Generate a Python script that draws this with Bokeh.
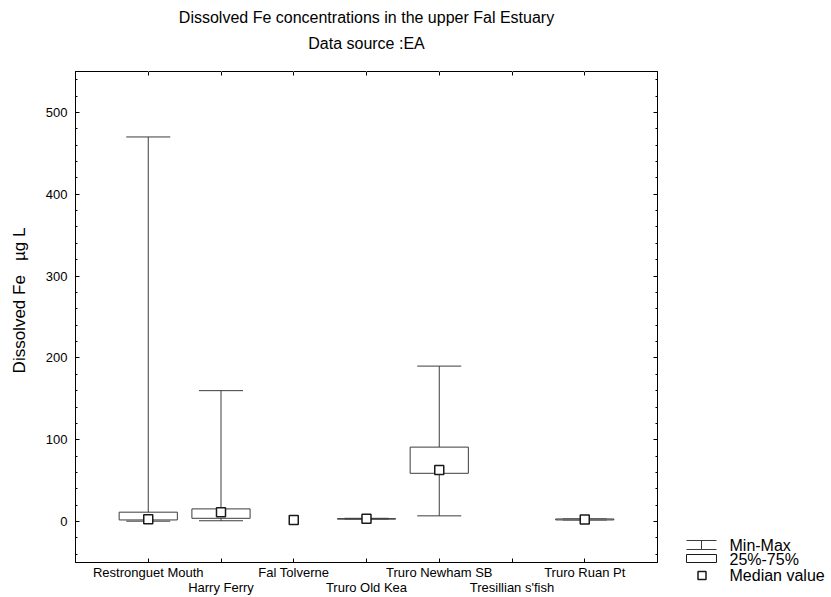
from bokeh.plotting import figure
from bokeh.models import (Range1d, LinearAxis, SingleIntervalTicker, FixedTicker,
                          ColumnDataSource, Whisker, TeeHead, Title)
from bokeh.layouts import row, column
from bokeh.embed import file_html
from bokeh.resources import INLINE
from bokeh.core.properties import value

nan = float("nan")

# ---- data ----
sites = ["Restronguet Mouth", "Harry Ferry", "Fal Tolverne", "Truro Old Kea",
         "Truro Newham SB", "Tresillian s'fish", "Truro Ruan Pt"]
fe_min = [0.5, 1.0, nan, 3.0, 7.0, nan, 2.0]
fe_q1 = [2.0, 4.0, nan, 3.0, 59.0, nan, 2.0]
fe_median = [3.0, 11.5, 2.0, 3.5, 63.0, nan, 2.5]
fe_q3 = [11.5, 15.5, nan, 3.6, 91.0, nan, 3.2]
fe_max = [470.0, 160.0, nan, 4.0, 190.0, nan, 3.2]

y_start, y_end = -50, 550
legend_labels = ["Min-Max", "25%-75%", "Median value"]

FONT = "Liberation Sans"
LINE = "#3c3c3c"

xpos = [i + 1 for i in range(len(sites))]
src = ColumnDataSource(dict(x=xpos, lo=fe_min, q1=fe_q1, med=fe_median, q3=fe_q3, hi=fe_max))

p = figure(x_range=Range1d(0, len(sites) + 1), y_range=Range1d(y_start, y_end),
           width=680, height=597, title=None, output_backend="svg", toolbar_location=None,
           min_border_left=75, min_border_right=23, min_border_top=71, min_border_bottom=34)
p.xgrid.visible = False
p.ygrid.visible = False
p.outline_line_color = "black"
p.background_fill_color = "white"
p.border_fill_color = "white"

# whiskers (min-max) under the boxes
wh = Whisker(source=src, base="x", lower="lo", upper="hi", line_color=LINE, line_width=1,
             lower_head=TeeHead(size=44, line_color=LINE, line_width=1),
             upper_head=TeeHead(size=44, line_color=LINE, line_width=1), level="underlay")
p.add_layout(wh)

p.vbar(x="x", width=0.8, bottom="q1", top="q3", source=src,
       fill_color="white", line_color=LINE, line_width=1)
p.scatter(x="x", y="med", source=src, marker="square", size=9,
          fill_color="white", line_color="#1a1a1a", line_width=1.5)

# y axes
ya = p.yaxis[0]
ya.ticker = SingleIntervalTicker(interval=100, num_minor_ticks=5)
ya.major_tick_in = 4
ya.major_tick_out = 0
ya.minor_tick_in = 2
ya.minor_tick_out = 0
ya.major_label_standoff = 8
ya.major_label_text_font = FONT
ya.major_label_text_font_size = "13px"
ya.major_label_text_color = "black"
ya.axis_line_color = "black"
ya.axis_label = "\u00a0" * 7 + "Dissolved Fe\u00a0\u00a0 \u00b5g L"
ya.axis_label_text_font = FONT
ya.axis_label_text_font_size = "17px"
ya.axis_label_text_font_style = "normal"
ya.axis_label_text_color = "black"
ya.axis_label_standoff = 14

ra = LinearAxis(ticker=SingleIntervalTicker(interval=100, num_minor_ticks=5),
                major_tick_in=4, major_tick_out=0, minor_tick_in=2, minor_tick_out=0,
                major_label_text_color=None, major_label_standoff=0, axis_line_color="black")
p.add_layout(ra, "right")

# x axes: category names, staggered on two rows
xa = p.xaxis[0]
xa.ticker = FixedTicker(ticks=xpos)
xa.major_label_overrides = {x: (s if i % 2 == 0 else "\n" + s)
                            for i, (x, s) in enumerate(zip(xpos, sites))}
xa.major_tick_in = 4
xa.major_tick_out = 0
xa.major_label_standoff = 2
xa.major_label_text_font = FONT
xa.major_label_text_font_size = "13px"
xa.major_label_text_line_height = 1.0
xa.major_label_text_color = "black"
xa.axis_line_color = "black"

ta = LinearAxis(ticker=FixedTicker(ticks=xpos), major_tick_in=4, major_tick_out=0,
                major_label_text_color=None, major_label_standoff=0, axis_line_color="black")
p.add_layout(ta, "above")
# blank band between the frame and the titles (white ticks on white)
spacer = LinearAxis(ticker=FixedTicker(ticks=xpos), major_tick_in=0, major_tick_out=17,
                    major_tick_line_color="white", axis_line_color=None,
                    major_label_text_color=None, major_label_standoff=0)
p.add_layout(spacer, "above")

p.add_layout(Title(text="Data source :EA", align="center", text_font=FONT, text_font_size="16px",
                   text_font_style="normal", text_color="black", standoff=6), "above")
p.add_layout(Title(text="Dissolved Fe concentrations in the upper Fal Estuary", align="center",
                   text_font=FONT, text_font_size="16px", text_font_style="normal",
                   text_color="black", standoff=7), "above")

# ---- legend panel ----
lg = figure(width=151, height=597, x_range=Range1d(0, 151), y_range=Range1d(597, 0),
            output_backend="svg", toolbar_location=None, min_border=0, title=None,
            x_axis_location=None, y_axis_location=None)
lg.grid.visible = False
lg.outline_line_color = None
lg.border_fill_color = "white"
lg.background_fill_color = "white"

lg.segment(x0=[6, 6, 21], y0=[540, 549, 540], x1=[36, 36, 21], y1=[540, 549, 549],
           line_color=LINE, line_width=1)
lg.quad(left=[6], right=[36], top=[554], bottom=[562], fill_color="white",
        line_color="#1a1a1a", line_width=1)
lg.scatter(x=[21.5], y=[575], marker="square", size=8, fill_color="white",
           line_color="#1a1a1a", line_width=1.5)
lg.text(x=[49, 49, 49], y=[545, 559, 575], text=legend_labels, text_font=value(FONT),
        text_font_size="16px", text_baseline="middle", text_align="left", text_color="black")

layout = row(p, column(lg))
open("out.html", "w").write(file_html(layout, INLINE))
